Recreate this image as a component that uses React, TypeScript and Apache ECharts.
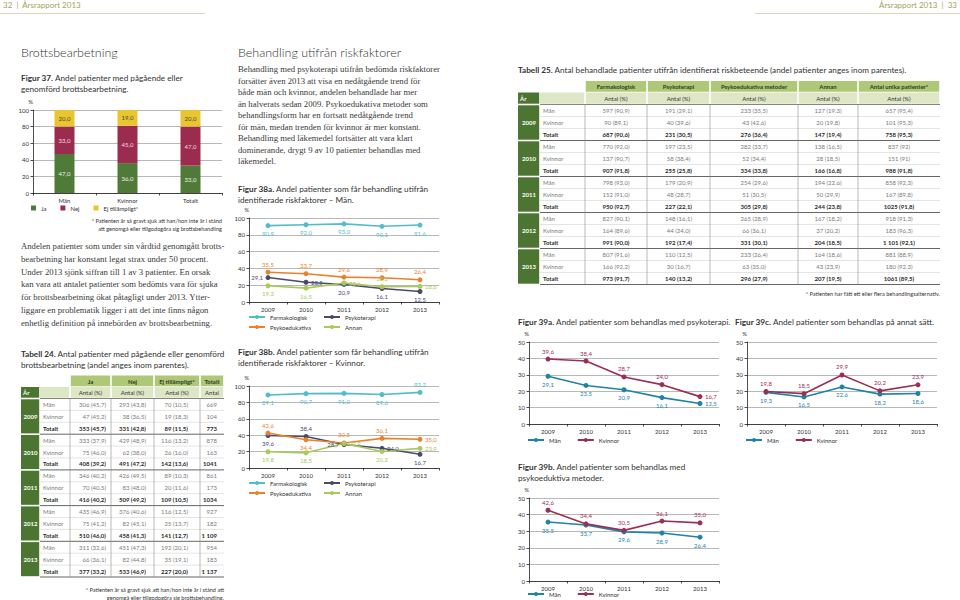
import React, { useEffect, useRef } from "react";
import * as echarts from "echarts";

const SANS = 'Lato, "Open Sans", "Noto Sans", sans-serif';
const SERIF = '"Liberation Serif", "DejaVu Serif", serif';

// ---------- data ----------
const years = ["2009", "2010", "2011", "2012", "2013"];

const fig37Categories = ["Män", "Kvinnor", "Totalt"];
const fig37Ja = [47, 36, 33];
const fig37Nej = [33, 45, 47];
const fig37Ej = [20, 19, 20];

const menFarmakologisk = [90.9, 92.0, 93.0, 90.1, 91.6];
const menPsykoterapi = [29.1, 23.5, 20.9, 16.1, 12.5];
const menPsykoedukativa = [35.5, 33.7, 29.6, 28.9, 26.4];
const menAnnan = [19.3, 16.5, 22.6, 18.2, 18.6];

const womenFarmakologisk = [89.1, 90.7, 91.0, 89.6, 92.2];
const womenPsykoterapi = [39.6, 38.4, 28.7, 24.0, 16.7];
const womenPsykoedukativa = [42.6, 34.4, 30.5, 36.1, 35.0];
const womenAnnan = [19.8, 18.5, 29.9, 20.2, 23.9];

const rowLabels = ["Män", "Kvinnor", "Totalt"];

const table24Header = ["Ja", "Nej", "Ej tillämpligt*", "Totalt"];
const table24Sub = ["Antal (%)", "Antal (%)", "Antal (%)", "Antal"];
const table24Rows = [
  ["306 (45,7)", "293 (43,8)", "70 (10,5)", "669"],
  ["47 (45,2)", "38 (36,5)", "19 (18,3)", "104"],
  ["353 (45,7)", "331 (42,8)", "89 (11,5)", "773"],
  ["333 (37,9)", "429 (48,9)", "116 (13,2)", "878"],
  ["75 (46,0)", "62 (38,0)", "26 (16,0)", "163"],
  ["408 (39,2)", "491 (47,2)", "142 (13,6)", "1041"],
  ["346 (40,2)", "426 (49,5)", "89 (10,3)", "861"],
  ["70 (40,5)", "83 (48,0)", "20 (11,6)", "173"],
  ["416 (40,2)", "509 (49,2)", "109 (10,5)", "1034"],
  ["435 (46,9)", "376 (40,6)", "116 (12,5)", "927"],
  ["75 (41,2)", "82 (45,1)", "25 (13,7)", "182"],
  ["510 (46,0)", "458 (41,3)", "141 (12,7)", "1 109"],
  ["311 (32,6)", "451 (47,3)", "192 (20,1)", "954"],
  ["66 (36,1)", "82 (44,8)", "35 (19,1)", "183"],
  ["377 (33,2)", "533 (46,9)", "227 (20,0)", "1 137"],
];

const table25Header = ["Farmakologisk", "Psykoterapi", "Psykoedukativa metoder", "Annan", "Antal unika patienter*"];
const table25Sub = ["Antal (%)", "Antal (%)", "Antal (%)", "Antal (%)", "Antal (%)"];
const table25Rows = [
  ["597 (90,9)", "191 (29,1)", "233 (35,5)", "127 (19,3)", "657 (95,4)"],
  ["90 (89,1)", "40 (39,6)", "43 (42,6)", "20 (19,8)", "101 (95,3)"],
  ["687 (90,6)", "231 (30,5)", "276 (36,4)", "147 (19,4)", "758 (95,3)"],
  ["770 (92,0)", "197 (23,5)", "282 (33,7)", "138 (16,5)", "837 (92)"],
  ["137 (90,7)", "58 (38,4)", "52 (34,4)", "28 (18,5)", "151 (91)"],
  ["907 (91,8)", "255 (25,8)", "334 (33,8)", "166 (16,8)", "988 (91,8)"],
  ["798 (93,0)", "179 (20,9)", "254 (29,6)", "194 (22,6)", "858 (92,3)"],
  ["152 (91,0)", "48 (28,7)", "51 (30,5)", "50 (29,9)", "167 (89,8)"],
  ["950 (92,7)", "227 (22,1)", "305 (29,8)", "244 (23,8)", "1025 (91,8)"],
  ["827 (90,1)", "148 (16,1)", "265 (28,9)", "167 (18,2)", "918 (91,3)"],
  ["164 (89,6)", "44 (24,0)", "66 (36,1)", "37 (20,2)", "183 (96,3)"],
  ["991 (90,0)", "192 (17,4)", "331 (30,1)", "204 (18,5)", "1 101 (92,1)"],
  ["807 (91,6)", "110 (12,5)", "233 (26,4)", "164 (18,6)", "881 (88,9)"],
  ["166 (92,2)", "30 (16,7)", "63 (35,0)", "43 (23,9)", "180 (92,3)"],
  ["973 (91,7)", "140 (13,2)", "296 (27,9)", "207 (19,5)", "1061 (89,5)"],
];

const textLeft = [
  "Andelen patienter som under sin vårdtid genomgått brotts-",
  "bearbetning har konstant legat strax under 50 procent.",
  "Under 2013 sjönk siffran till 1 av 3 patienter. En orsak",
  "kan vara att antalet patienter som bedömts vara för sjuka",
  "för brottsbearbetning ökat påtagligt under 2013. Ytter-",
  "liggare en problematik ligger i att det inte finns någon",
  "enhetlig definition på innebörden av brottsbearbetning.",
];
const textMiddle = [
  "Behandling med psykoterapi utifrån bedömda riskfaktorer",
  "forsätter även 2013 att visa en nedåtgående trend för",
  "både män och kvinnor, andelen behandlade har mer",
  "än halverats sedan 2009. Psykoedukativa metoder som",
  "behandlingsform har en fortsatt nedåtgående trend",
  "för män, medan trenden för kvinnor är mer konstant.",
  "Behandling med läkemedel fortsätter att vara klart",
  "dominerande, drygt 9 av 10 patienter behandlas med",
  "läkemedel.",
];

// ---------- styles ----------
const GREEN = "#4f7a37";
const RED = "#9b2b4f";
const YELLOW = "#e8c532";
const C_FARM = "#52bccb";
const C_PTER = "#4b4a6d";
const C_PEDU = "#e8832c";
const C_ANNAN = "#a9c95a";
const C_MEN = "#1f83a8";
const C_WOMEN = "#9b2f52";
const DARK = "#4d7532";
const HDR1 = "#afc878";
const HDR2 = "#dde7c6";
const OLIVE = "#a3a35a";

const fmt = (v: number) => v.toFixed(1).replace(".", ",");

function txt(x: number, y: number, text: string, o: any = {}) {
  const align = o.align ?? "left";
  const style: any = {
    text,
    fill: o.fill ?? "#333",
    fontSize: o.fontSize ?? 8,
    fontFamily: o.fontFamily ?? SANS,
    fontWeight: o.fontWeight ?? "normal",
    align,
    textAlign: align,
    verticalAlign: "middle",
    textVerticalAlign: "middle",
  };
  if (o.rich) style.rich = o.rich;
  return { type: "text", x, y, silent: true, style };
}
function rect(x: number, y: number, w: number, h: number, fill: string) {
  return { type: "rect", silent: true, shape: { x, y, width: w, height: h }, style: { fill } };
}
function hline(x1: number, x2: number, y: number, stroke: string, w: number) {
  return { type: "line", silent: true, shape: { x1, y1: y, x2, y2: y }, style: { stroke, lineWidth: w } };
}
function vline(x: number, y1: number, y2: number, stroke: string, w: number) {
  return { type: "line", silent: true, shape: { x1: x, y1, x2: x, y2 }, style: { stroke, lineWidth: w } };
}

function caption(x: number, y: number, bold: string, rest: string, fs = 8.2) {
  return txt(x, y, `{b|${bold}} ${rest}`, {
    fontSize: fs,
    rich: {
      b: { fontWeight: "bold", fontSize: fs, fontFamily: SANS, fill: "#333", color: "#333" },
    },
  });
}

function buildTable(cfg: {
  edges: number[];
  h1Top: number;
  h1H: number;
  h2H: number;
  rowH: number;
  headers: string[];
  subs: string[];
  rows: string[][];
  alignMode: "center" | "right";
  insets?: number[];
  fs: number;
}) {
  const els: any[] = [];
  const { edges, h1Top, h1H, h2H, rowH, headers, subs, rows, fs } = cfg;
  const h2Top = h1Top + h1H;
  const rowTop = h2Top + h2H;
  const right = edges[edges.length - 1];
  const bottom = rowTop + rows.length * rowH;
  headers.forEach((h, c) => {
    const x0 = edges[c + 2];
    const x1 = edges[c + 3];
    els.push(rect(x0 + 0.8, h1Top, x1 - x0 - 1.6, h1H - 0.8, HDR1));
    els.push(txt((x0 + x1) / 2, h1Top + h1H / 2, h, { fontSize: fs, fontWeight: "bold", fill: "#2f3a22", align: "center" }));
    els.push(rect(x0 + 0.8, h2Top, x1 - x0 - 1.6, h2H - 0.8, HDR2));
    els.push(txt((x0 + x1) / 2, h2Top + h2H / 2, subs[c], { fontSize: fs, fill: "#333", align: "center" }));
  });
  els.push(rect(edges[0], h2Top, edges[1] - edges[0] - 0.8, h2H - 0.8, DARK));
  els.push(txt(edges[0] + 2, h2Top + h2H / 2, "År", { fontSize: fs, fontWeight: "bold", fill: "#fff" }));
  els.push(rect(edges[1], h2Top, edges[2] - edges[1] - 0.8, h2H - 0.8, HDR2));
  els.push(hline(edges[1], right, rowTop, "#666", 0.8));

  years.forEach((yr, g) => {
    const gy = rowTop + g * 3 * rowH;
    els.push(rect(edges[0], gy + 0.8, edges[1] - edges[0] - 0.8, 3 * rowH - 1.6, DARK));
    els.push(
      txt((edges[0] + edges[1]) / 2, gy + 1.5 * rowH, yr, { fontSize: fs, fontWeight: "bold", fill: "#fff", align: "center" })
    );
    for (let r = 0; r < 3; r++) {
      const idx = g * 3 + r;
      const cy = gy + r * rowH + rowH / 2;
      const tot = r === 2;
      const color = tot ? "#2b2b2b" : "#7a7a7a";
      const weight = tot ? "bold" : "normal";
      els.push(txt(edges[1] + 3, cy, rowLabels[r], { fontSize: fs, fill: color, fontWeight: weight }));
      rows[idx].forEach((val, c) => {
        const x0 = edges[c + 2];
        const x1 = edges[c + 3];
        if (cfg.alignMode === "right") {
          const inset = cfg.insets ? cfg.insets[c] : 4;
          els.push(txt(x1 - inset, cy, val, { fontSize: fs, fill: color, fontWeight: weight, align: "right" }));
        } else {
          els.push(txt((x0 + x1) / 2, cy, val, { fontSize: fs, fill: color, fontWeight: weight, align: "center" }));
        }
      });
      const ly = gy + (r + 1) * rowH;
      els.push(hline(edges[1], right, ly, tot ? "#555" : "#c8c8c8", tot ? 0.9 : 0.5));
    }
  });
  for (let c = 2; c < edges.length - 1; c++) {
    els.push(vline(edges[c], rowTop, bottom, "#8a8a8a", 0.6));
  }
  return els;
}

function lineSeries(name: string, data: number[], color: string, gi: number, pos: string[]) {
  return {
    type: "line",
    name,
    xAxisIndex: gi,
    yAxisIndex: gi,
    data: data.map((v, i) => ({ value: v, label: { position: pos[i] } })),
    symbol: "circle",
    symbolSize: 5,
    color,
    lineStyle: { color, width: 1.6 },
    itemStyle: { color },
    label: {
      show: true,
      fontSize: 6,
      color,
      distance: 2.5,
      fontFamily: SANS,
      formatter: (p: any) => fmt(p.value),
    },
    emphasis: { disabled: true },
  };
}

function barSeries(name: string, data: number[], color: string, labelColor: string) {
  return {
    type: "bar",
    name,
    stack: "f37",
    xAxisIndex: 0,
    yAxisIndex: 0,
    data,
    barWidth: 20,
    itemStyle: { color },
    label: {
      show: true,
      position: "inside",
      fontSize: 6,
      color: labelColor,
      fontFamily: SANS,
      formatter: (p: any) => fmt(p.value),
    },
    emphasis: { disabled: true },
  };
}

const grids = [
  { left: 33, top: 110, width: 189, height: 83 },
  { left: 249, top: 218, width: 190, height: 84 },
  { left: 249, top: 386, width: 190, height: 82 },
  { left: 529, top: 342, width: 190, height: 82 },
  { left: 747, top: 342, width: 190, height: 82 },
  { left: 529, top: 498, width: 190, height: 83 },
];

function xAxis(gi: number, cats: string[]) {
  return {
    type: "category",
    gridIndex: gi,
    data: cats,
    axisLine: { show: true, lineStyle: { color: "#222", width: 0.8 } },
    axisTick: { show: true, length: 2.5, lineStyle: { color: "#222", width: 0.8 } },
    axisLabel: { fontSize: 6, color: "#333", margin: 4, fontFamily: SANS },
    splitLine: { show: false },
  };
}
function yAxis(gi: number, max: number, interval: number) {
  return {
    type: "value",
    gridIndex: gi,
    min: 0,
    max,
    interval,
    name: "%",
    nameLocation: "end",
    nameGap: 6,
    nameTextStyle: { fontSize: 6, color: "#333", align: "right", fontFamily: SANS },
    axisLine: { show: true, lineStyle: { color: "#222", width: 0.8 } },
    axisTick: { show: true, length: 2.5, lineStyle: { color: "#222", width: 0.8 } },
    axisLabel: { fontSize: 6, color: "#333", margin: 4, fontFamily: SANS },
    splitLine: { show: true, lineStyle: { color: "#9a9a9a", width: 0.7 } },
  };
}

function lineLegend(names: string[], left: number, top: number, orient: string, gap: number) {
  return {
    data: names,
    left,
    top,
    orient,
    itemWidth: 16,
    itemHeight: 5,
    itemGap: gap,
    padding: 0,
    selectedMode: false,
    textStyle: { fontSize: 6, color: "#333", fontFamily: SANS },
  };
}

function buildOption() {
  const graphics: any[] = [];
  // page header
  graphics.push(txt(3, 5, "32  |  Årsrapport 2013", { fontSize: 8, fill: OLIVE }));
  graphics.push(hline(0, 205, 13.5, "#cfcfa8", 0.8));
  graphics.push(txt(957, 5, "Årsrapport 2013  |  33", { fontSize: 8, fill: OLIVE, align: "right" }));
  graphics.push(hline(755, 960, 13.5, "#cfcfa8", 0.8));

  // section titles
  graphics.push(txt(21, 52, "Brottsbearbetning", { fontSize: 12.5, fill: "#333", fontWeight: 300 }));
  graphics.push(txt(238, 52, "Behandling utifrån riskfaktorer", { fontSize: 12.5, fill: "#333", fontWeight: 300 }));

  // captions
  graphics.push(caption(21, 78, "Figur 37.", "Andel patienter med pågående eller"));
  graphics.push(txt(21, 89, "genomförd brottsbearbetning.", { fontSize: 8.2 }));
  graphics.push(caption(238, 189, "Figur 38a.", "Andel patienter som får behandling utifrån"));
  graphics.push(txt(238, 200, "identifierade riskfaktorer – Män.", { fontSize: 8.2 }));
  graphics.push(caption(238, 352, "Figur 38b.", "Andel patienter som får behandling utifrån"));
  graphics.push(txt(238, 363, "identifierade riskfaktorer – Kvinnor.", { fontSize: 8.2 }));
  graphics.push(caption(21, 354, "Tabell 24.", "Antal patienter med pågående eller genomförd"));
  graphics.push(txt(21, 365, "brottsbearbetning (andel anges inom parentes).", { fontSize: 8.2 }));
  graphics.push(
    caption(518, 70, "Tabell 25.", "Antal behandlade patienter utifrån identifierat riskbeteende (andel patienter anges inom parentes).")
  );
  graphics.push(caption(518, 322, "Figur 39a.", "Andel patienter som behandlas med psykoterapi."));
  graphics.push(caption(735, 322, "Figur 39c.", "Andel patienter som behandlas på annat sätt."));
  graphics.push(caption(518, 467, "Figur 39b.", "Andel patienter som behandlas med"));
  graphics.push(txt(518, 478, "psykoeduktiva metoder.", { fontSize: 8.2 }));

  // paragraphs
  textLeft.forEach((l, i) => graphics.push(txt(21, 246 + i * 12.8, l, { fontSize: 8.7, fontFamily: SERIF, fill: "#3a3a3a" })));
  textMiddle.forEach((l, i) =>
    graphics.push(txt(238, 69 + i * 11.5, l, { fontSize: 8.7, fontFamily: SERIF, fill: "#3a3a3a" }))
  );

  // footnotes
  graphics.push(txt(222, 220, "* Patienten är så gravt sjuk att han/hon inte är i stånd", { fontSize: 5.6, align: "right" }));
  graphics.push(txt(222, 228, "att genomgå eller tillgodogöra sig brottsbehandling", { fontSize: 5.6, align: "right" }));
  graphics.push(txt(224, 589, "* Patienten är så gravt sjuk att han/hon inte är i stånd att", { fontSize: 5.6, align: "right" }));
  graphics.push(txt(224, 597, "genomgå eller tillgodogöra sig brottsbehandling.", { fontSize: 5.6, align: "right" }));
  graphics.push(txt(940, 293, "* Patienten har fått ett eller flera behandlingsalternativ.", { fontSize: 5.6, align: "right" }));

  // tables
  graphics.push(
    ...buildTable({
      edges: [21, 40, 70, 111, 154, 200, 224],
      h1Top: 375.5,
      h1H: 11.5,
      h2H: 11.5,
      rowH: 11.9,
      headers: table24Header,
      subs: table24Sub,
      rows: table24Rows,
      alignMode: "right",
      insets: [5, 8, 12, 7],
      fs: 6,
    })
  );
  graphics.push(
    ...buildTable({
      edges: [518, 540, 585, 647, 710, 798, 858, 940],
      h1Top: 81,
      h1H: 11.5,
      h2H: 12,
      rowH: 12,
      headers: table25Header,
      subs: table25Sub,
      rows: table25Rows,
      alignMode: "center",
      fs: 6,
    })
  );

  const series: any[] = [
    barSeries("Ja", fig37Ja, GREEN, "#f2f2f2"),
    barSeries("Nej", fig37Nej, RED, "#f4dbe3"),
    barSeries("Ej tillämpligt*", fig37Ej, YELLOW, "#4a4a2a"),

    lineSeries("Farmakologisk", menFarmakologisk, C_FARM, 1, ["bottom", "bottom", "bottom", "bottom", "bottom"]),
    lineSeries("Psykoterapi", menPsykoterapi, C_PTER, 1, ["left", "right", "bottom", "bottom", "bottom"]),
    lineSeries("Psykoedukativa", menPsykoedukativa, C_PEDU, 1, ["top", "top", "top", "top", "top"]),
    lineSeries("Annan", menAnnan, C_ANNAN, 1, ["bottom", "bottom", "right", "top", "right"]),

    lineSeries("Farmakologisk", womenFarmakologisk, C_FARM, 2, ["bottom", "bottom", "bottom", "bottom", "top"]),
    lineSeries("Psykoterapi", womenPsykoterapi, C_PTER, 2, ["bottom", "top", "left", "right", "bottom"]),
    lineSeries("Psykoedukativa", womenPsykoedukativa, C_PEDU, 2, ["top", "bottom", "top", "top", "right"]),
    lineSeries("Annan", womenAnnan, C_ANNAN, 2, ["bottom", "bottom", "right", "bottom", "right"]),

    lineSeries("Män", menPsykoterapi, C_MEN, 3, ["bottom", "bottom", "bottom", "bottom", "right"]),
    lineSeries("Kvinnor", womenPsykoterapi, C_WOMEN, 3, ["top", "top", "top", "top", "right"]),

    lineSeries("Män", menAnnan, C_MEN, 4, ["bottom", "bottom", "bottom", "bottom", "bottom"]),
    lineSeries("Kvinnor", womenAnnan, C_WOMEN, 4, ["top", "top", "top", "top", "top"]),

    lineSeries("Män", menPsykoedukativa, C_MEN, 5, ["bottom", "bottom", "bottom", "bottom", "bottom"]),
    lineSeries("Kvinnor", womenPsykoedukativa, C_WOMEN, 5, ["top", "top", "top", "top", "top"]),
  ];

  return {
    animation: false,
    backgroundColor: "#ffffff",
    textStyle: { fontFamily: SANS },
    grid: grids.map((g) => ({ ...g, containLabel: false, outerBoundsMode: "none" })),
    xAxis: [
      xAxis(0, fig37Categories),
      xAxis(1, years),
      xAxis(2, years),
      xAxis(3, years),
      xAxis(4, years),
      xAxis(5, years),
    ],
    yAxis: [yAxis(0, 100, 20), yAxis(1, 100, 20), yAxis(2, 100, 20), yAxis(3, 50, 10), yAxis(4, 50, 10), yAxis(5, 50, 10)],
    legend: [
      {
        data: ["Ja", "Nej", "Ej tillämpligt*"],
        left: 31,
        top: 205,
        padding: 0,
        icon: "rect",
        itemWidth: 5,
        itemHeight: 5,
        itemGap: 14,
        selectedMode: false,
        textStyle: { fontSize: 6, color: "#333", fontFamily: SANS },
      },
      lineLegend(["Farmakologisk", "Psykoedukativa"], 248, 314, "vertical", 4),
      lineLegend(["Psykoterapi", "Annan"], 323, 314, "vertical", 4),
      lineLegend(["Farmakologisk", "Psykoedukativa"], 248, 480, "vertical", 4),
      lineLegend(["Psykoterapi", "Annan"], 323, 480, "vertical", 4),
      lineLegend(["Män", "Kvinnor"], 527, 437, "horizontal", 16),
      lineLegend(["Män", "Kvinnor"], 745, 437, "horizontal", 16),
      lineLegend(["Män", "Kvinnor"], 527, 591, "horizontal", 16),
    ],
    series,
    graphic: { elements: graphics },
  };
}

export default function App() {
  const ref = useRef<HTMLDivElement>(null);
  useEffect(() => {
    if (!ref.current) return;
    const chart = echarts.init(ref.current, null, { renderer: "svg", width: 960, height: 600 });
    chart.setOption(buildOption() as any);
    return () => chart.dispose();
  }, []);
  return (
    <div
      ref={ref}
      style={{ position: "fixed", left: 0, top: 0, width: 960, height: 600, background: "#fff" }}
    />
  );
}
